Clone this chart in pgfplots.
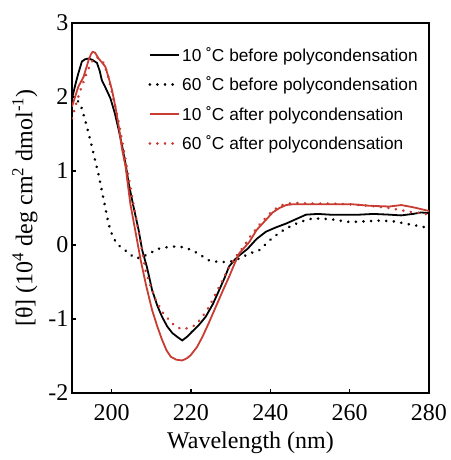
\documentclass[border=0pt]{standalone}
\usepackage{fontspec}
\setmainfont{Liberation Serif}
\newfontfamily\arial{Liberation Sans}
\usepackage{pgfplots}
\pgfplotsset{compat=1.18}

\definecolor{cdred}{RGB}{200,60,50}

\begin{document}
\begin{tikzpicture}
\begin{axis}[
    scale only axis,
    width=357pt, height=370pt,
    xmin=190, xmax=280, ymin=-2, ymax=3,
    xtick={200,220,240,260,280},
    xticklabels={200,220,240,260,280},
    ytick={-2,-1,0,1,2,3},
    yticklabels={-2,-1,0,1,2,3},
    tick align=inside,
    xtick pos=bottom, ytick pos=left,
    major tick length=4pt,
    axis line style={line width=1.4pt},
    every tick/.style={black, line width=1.2pt},
    tick label style={font=\fontsize{24}{28}\selectfont},
    xticklabel style={yshift=-8pt},
    xlabel={Wavelength (nm)},
    ylabel={[θ] (10\textsuperscript{4} deg cm\textsuperscript{2} dmol\textsuperscript{-1})},
    label style={font=\fontsize{24}{28}\selectfont},
    xlabel style={yshift=-4pt},
    ylabel style={yshift=4pt},
    legend style={at={(1,1)}, anchor=north east, xshift=-6pt, yshift=-20pt,
      draw=none, fill=none, font=\arial\fontsize{17.3}{20}\selectfont, row sep=10pt},
    legend cell align=left,
    legend image code/.code={\draw[#1] (0pt,0pt) -- (29pt,0pt);},
    solid line/.style={line width=1.8pt},
    dot line/.style={line width=2.8pt, dash pattern=on 0.1pt off 7.5pt, line cap=round},
]
% 10 C before
\addplot[black, solid line] coordinates {
(190,1.98) (191,2.20) (191.6,2.32) (192.5,2.48) (193.3,2.51) (194.2,2.52) (195.2,2.50)
(196.3,2.46) (197.0,2.35) (197.5,2.23) (198.5,2.12) (199.7,1.98) (200.8,1.78) (201.8,1.55)
(202.7,1.32) (203.5,1.10) (204.3,0.83) (205.5,0.52) (206.8,0.20) (207.7,-0.07) (208.9,-0.30)
(210.2,-0.61) (211.5,-0.82) (212.7,-0.97) (214.0,-1.10) (215.3,-1.19) (216.5,-1.24) (217.8,-1.29)
(219.0,-1.24) (220.3,-1.17) (222.0,-1.08) (223.7,-0.97) (225.5,-0.80) (227.1,-0.61) (228.5,-0.44)
(229.6,-0.29) (231.0,-0.20) (232.2,-0.14) (234.3,-0.05) (236.5,0.08) (238.9,0.18) (241.5,0.24)
(244.0,0.29) (246.5,0.35) (249.0,0.41) (252,0.42) (255,0.41) (258,0.41) (262.5,0.41) (266,0.42)
(270,0.41) (273,0.40) (276,0.42) (278,0.44) (280,0.43)
};
% 60 C before
\addplot[black, dot line] coordinates {
(190,2.00) (191,1.97) (192.1,1.91) (193.3,1.69) (194.6,1.42) (195.4,1.24) (196.7,0.95)
(198.0,0.61) (199.2,0.29) (200.2,0.12) (201.3,0.02) (202.5,-0.04) (203.9,-0.09) (205.0,-0.14)
(206.0,-0.18) (207.2,-0.17) (208.5,-0.14) (210.0,-0.10) (211.9,-0.05) (214.0,-0.03) (216.1,-0.02)
(218.0,-0.03) (220.3,-0.07) (222.5,-0.14) (224.6,-0.21) (227.0,-0.23) (229.6,-0.23) (231.5,-0.20)
(233.0,-0.16) (235.0,-0.11) (237.2,-0.07) (240.6,0.10) (243.0,0.19) (245.6,0.27) (248.0,0.32)
(250.7,0.36) (255,0.35) (260,0.31) (264,0.32) (267.6,0.33) (271,0.32) (275,0.28) (280,0.23)
};
% 10 C after
\addplot[cdred, solid line] coordinates {
(190,1.87) (191.6,2.14) (192.9,2.27) (194.2,2.50) (194.8,2.58) (195.2,2.61) (195.8,2.60)
(196.7,2.52) (197.5,2.47) (198.4,2.41) (199.3,2.25) (200.1,2.09) (201.0,1.85) (201.8,1.60)
(202.6,1.30) (203.5,1.06) (204.7,0.56) (206.0,0.18) (207.3,-0.20) (208.7,-0.55) (210.2,-0.88)
(211.5,-1.10) (212.7,-1.28) (213.8,-1.42) (214.9,-1.51) (216.3,-1.55) (217.8,-1.56) (219.0,-1.53)
(219.9,-1.49) (221.5,-1.38) (222.9,-1.24) (224.6,-1.04) (226.3,-0.83) (228.0,-0.62) (229.6,-0.43)
(231.0,-0.25) (232.2,-0.11) (234.7,0.04) (236.5,0.20) (238.9,0.34) (240.6,0.44) (242.3,0.50)
(244.0,0.54) (245.6,0.55) (250,0.55) (255,0.55) (260.8,0.55) (265,0.53) (270,0.52) (273,0.54)
(276,0.51) (280,0.46)
};
% 60 C after
\addplot[cdred, dot line] coordinates {
(190,1.71) (191,1.90) (192.1,2.09) (193.0,2.22) (193.8,2.34) (194.8,2.46) (195.9,2.54)
(197.0,2.52) (198.0,2.46) (199.0,2.30) (200.0,2.08) (200.9,1.87) (201.8,1.65) (202.6,1.42)
(203.5,1.15) (204.5,0.85) (205.5,0.55) (206.8,0.18) (207.7,-0.08) (208.5,-0.34) (209.8,-0.55)
(211.1,-0.74) (212.7,-0.90) (214.4,-1.01) (216.0,-1.10) (217.8,-1.14) (219.5,-1.12) (221.2,-1.08)
(223.0,-0.96) (224.6,-0.83) (226.3,-0.65) (228.0,-0.47) (229.6,-0.30) (231.3,-0.16) (233.0,-0.04)
(235.0,0.12) (237.0,0.26) (239.0,0.38) (241.0,0.48) (243.0,0.54) (245.6,0.57) (250,0.56)
(255,0.56) (260,0.55) (265,0.53) (270,0.50) (275,0.45) (278,0.43) (280,0.41)
};
\legend{10 ˚C before polycondensation, 60 ˚C before polycondensation,
        10 ˚C after polycondensation, 60 ˚C after polycondensation}
\end{axis}
\path (current axis.south west) ++(-72pt,-67pt) coordinate (bbA);
\path (current axis.north east) ++(20pt,23pt) coordinate (bbB);
\path (bbA) rectangle (bbB);
\end{tikzpicture}
\end{document}
